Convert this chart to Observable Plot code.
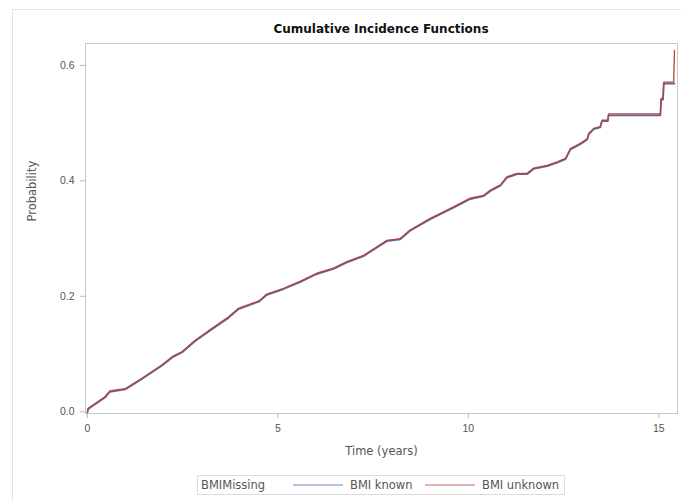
<!DOCTYPE html>
<html>
<head>
<meta charset="utf-8">
<script src="https://cdn.jsdelivr.net/npm/d3@7"></script>
<script src="https://cdn.jsdelivr.net/npm/@observablehq/plot@0.6"></script>
<style>
  body { margin: 0; background: #fff; font-family: "Liberation Sans", Arial, sans-serif; }
  #wrap { position: relative; width: 681px; height: 500px; overflow: hidden; }
  #box { position: absolute; left: 12px; top: 9px; width: 680px; height: 500px; border: 1px solid #e2e2e2; box-sizing: border-box; }
  #title { position: absolute; left: 85px; width: 592px; top: 22px; text-align: center; font-family: "DejaVu Sans", sans-serif; font-weight: bold; font-size: 12px; color: #111; }
  #legend { position: absolute; left: 197px; top: 475px; width: 368px; height: 20px; border: 1px solid #dcdcdc; box-sizing: border-box; font-family: "DejaVu Sans", sans-serif; font-size: 11.5px; color: #555; white-space: nowrap; }
  #legend > * { position: absolute; top: 50%; transform: translateY(-50%); }
  #plot { position: absolute; left: 0; top: 0; }
</style>
</head>
<body>
<div id="wrap">
  <div id="box"></div>
  <div id="plot"></div>
  <div id="title"></div>
  <div id="legend"></div>
</div>
<script>
const titleText = "Cumulative Incidence Functions";
const xLabel = "Time (years)";
const yLabel = "Probability";
const legendTitle = "BMIMissing";
const seriesNames = ["BMI known", "BMI unknown"];
const seriesColors = ["#5566a8", "#b8453a"];
const xTicks = [0, 5, 10, 15];
const yTicks = [0.0, 0.2, 0.4, 0.6];

const time = [0, 0.02, 0.46, 0.59, 0.99, 1.43, 1.95, 2.26, 2.48, 2.83, 3.26, 3.70, 3.96, 4.32, 4.50, 4.71, 5.15, 5.58, 6.02, 6.46, 6.81, 7.25, 7.60, 7.86, 8.21, 8.47, 9.00, 9.61, 10.05, 10.40, 10.58, 10.84, 11.01, 11.28, 11.54, 11.71, 12.07, 12.33, 12.55, 12.68, 12.94, 13.12, 13.16, 13.29, 13.46, 13.51, 13.66, 13.68, 15.04, 15.06, 15.11, 15.13, 15.39, 15.41];
const probKnown = [0, 0.006, 0.026, 0.036, 0.040, 0.058, 0.081, 0.097, 0.104, 0.124, 0.144, 0.164, 0.179, 0.188, 0.192, 0.204, 0.214, 0.226, 0.240, 0.249, 0.260, 0.271, 0.286, 0.297, 0.300, 0.315, 0.335, 0.355, 0.370, 0.375, 0.384, 0.393, 0.407, 0.413, 0.413, 0.422, 0.427, 0.433, 0.439, 0.456, 0.465, 0.473, 0.482, 0.491, 0.494, 0.505, 0.505, 0.515, 0.515, 0.542, 0.542, 0.570, 0.570, 0.570];
const probUnknown = [0, 0.006, 0.026, 0.036, 0.040, 0.058, 0.081, 0.097, 0.104, 0.124, 0.144, 0.164, 0.179, 0.188, 0.192, 0.204, 0.214, 0.226, 0.240, 0.249, 0.260, 0.271, 0.286, 0.297, 0.300, 0.315, 0.335, 0.355, 0.370, 0.375, 0.384, 0.393, 0.407, 0.413, 0.413, 0.422, 0.427, 0.433, 0.439, 0.456, 0.465, 0.473, 0.482, 0.491, 0.494, 0.505, 0.505, 0.516, 0.516, 0.543, 0.543, 0.571, 0.571, 0.626];

const rows = [];
time.forEach((t, i) => rows.push({t, p: probKnown[i], s: seriesNames[0]}));
time.forEach((t, i) => rows.push({t, p: probUnknown[i], s: seriesNames[1]}));

const chart = Plot.plot({
  width: 681,
  height: 500,
  marginLeft: 85,
  marginRight: 4,
  marginTop: 43,
  marginBottom: 87,
  style: {fontFamily: "'Liberation Sans', Arial, sans-serif", fontSize: "10.5px", color: "#555", background: "transparent"},
  x: {domain: [-0.05, 15.49]},
  y: {domain: [-0.003, 0.638]},
  color: {domain: seriesNames, range: seriesColors},
  marks: [
    Plot.frame({stroke: "#c8c8c8"}),
    Plot.axisX(xTicks, {tickSize: 5, tickPadding: 6, stroke: "#bbb", fill: "#555", label: null}),
    Plot.axisY(yTicks, {tickSize: 5, tickPadding: 6, stroke: "#bbb", fill: "#555", tickFormat: d3.format(".1f"), label: null}),
    Plot.text([xLabel], {frameAnchor: "bottom", dy: 41, fill: "#555", fontSize: 11.5, fontFamily: "'DejaVu Sans', sans-serif"}),
    Plot.text([yLabel], {frameAnchor: "left", dx: -53, dy: -7, rotate: -90, fill: "#555", fontSize: 11.5, fontFamily: "'DejaVu Sans', sans-serif"}),
    Plot.line(rows.filter(d => d.s === seriesNames[0]), {x: "t", y: "p", stroke: "s", strokeWidth: 1.8, dy: 0.8}),
    Plot.line(rows.filter(d => d.s === seriesNames[1]), {x: "t", y: "p", stroke: "s", strokeWidth: 1.3})
  ]
});
document.getElementById("plot").appendChild(chart);
document.getElementById("title").textContent = titleText;

const legend = document.getElementById("legend");
function addSpan(text, left) {
  const s = document.createElement("span");
  s.textContent = text;
  s.style.left = left + "px";
  legend.appendChild(s);
}
function addSwatch(color, left) {
  const d = document.createElement("div");
  d.style.left = left + "px";
  d.style.height = "4px";
  d.innerHTML = `<svg width="50" height="4" style="display:block"><line x1="0" x2="50" y1="2" y2="2" stroke="${color}" stroke-opacity="0.55" stroke-width="1.5"/></svg>`;
  legend.appendChild(d);
}
addSpan(legendTitle, 3);
addSwatch(seriesColors[0], 95);
addSpan(seriesNames[0], 152);
addSwatch(seriesColors[1], 227);
addSpan(seriesNames[1], 284);
</script>
</body>
</html>
